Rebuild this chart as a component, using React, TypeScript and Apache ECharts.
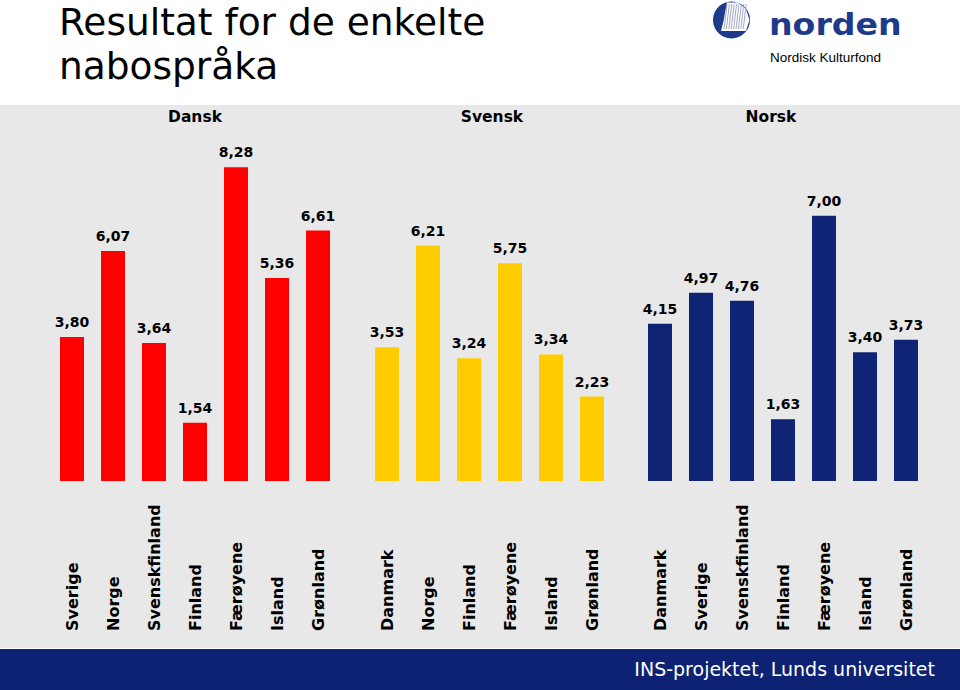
import React, { useEffect, useRef } from "react";
import * as echarts from "echarts";

const danskCategories = ["Sverige", "Norge", "Svenskfinland", "Finland", "Færøyene", "Island", "Grønland"];
const danskValues = [3.8, 6.07, 3.64, 1.54, 8.28, 5.36, 6.61];

const svenskCategories = ["Danmark", "Norge", "Finland", "Færøyene", "Island", "Grønland"];
const svenskValues = [3.53, 6.21, 3.24, 5.75, 3.34, 2.23];

const norskCategories = ["Danmark", "Sverige", "Svenskfinland", "Finland", "Færøyene", "Island", "Grønland"];
const norskValues = [4.15, 4.97, 4.76, 1.63, 7.0, 3.4, 3.73];

const groupNames = ["Dansk", "Svensk", "Norsk"];
const groupColors = ["#FF0000", "#FFCC00", "#102476"];

const FONT = "'DejaVu Sans', Verdana, sans-serif";

export default function App() {
  const ref = useRef<HTMLDivElement>(null);

  useEffect(() => {
    if (!ref.current) return;
    const chart = echarts.init(ref.current, null, { renderer: "svg" });

    const groups = [
      { cats: danskCategories, vals: danskValues, left: 51.5, width: 287 },
      { cats: svenskCategories, vals: svenskValues, left: 366.5, width: 246 },
      { cats: norskCategories, vals: norskValues, left: 639.5, width: 287 },
    ];
    const headerX = [195, 492, 771];

    const option: any = {
      animation: false,
      backgroundColor: "#ffffff",
      title: [
        {
          text: "Resultat for de enkelte\nnabospråka",
          left: 59,
          top: 0,
          padding: 0,
          textStyle: { fontFamily: FONT, fontSize: 37.5, fontWeight: "normal", color: "#000", lineHeight: 44 },
        },
        ...groupNames.map((g, i) => ({
          text: g,
          left: headerX[i],
          top: 109,
          padding: 0,
          textAlign: "center",
          textStyle: { fontFamily: FONT, fontSize: 15.5, fontWeight: "bold", color: "#000" },
        })),
      ],
      graphic: [
        { type: "rect", z: -10, shape: { x: 0, y: 105, width: 960, height: 543 }, style: { fill: "#E8E8E8" } },
        { type: "rect", z: -10, shape: { x: 0, y: 649, width: 960, height: 41 }, style: { fill: "#0D2273" } },
        {
          type: "text",
          z: 10,
          style: {
            text: "INS-projektet, Lunds universitet",
            x: 935,
            y: 669,
            align: "right",
            verticalAlign: "middle",
            fill: "#ffffff",
            fontFamily: FONT,
            fontSize: 19,
          },
        },
        { type: "circle", z: 10, shape: { cx: 731.5, cy: 20, r: 18.5 }, style: { fill: "#1E3A8A" } },
        {
          type: "polygon",
          z: 11,
          shape: {
            points: [
              [727, 2.5],
              [738, 2.5],
              [746, 9],
              [749.5, 20],
              [746, 31],
              [721, 31],
              [723.5, 21],
              [725.5, 10],
            ],
          },
          style: { fill: "#ffffff" },
        },
        ...[0, 1, 2, 3, 4, 5, 6, 7, 8].map((k) => ({
          type: "line",
          z: 12,
          shape: { x1: 727 + k * 2.4, y1: 4, x2: 724 + k * 2.4, y2: 29 },
          style: { stroke: "#8A93B8", lineWidth: 0.8 },
        })),
        {
          type: "text",
          z: 10,
          x: 769,
          y: 24,
          scaleX: 1.07,
          style: {
            text: "norden",
            x: 0,
            y: 0,
            align: "left",
            verticalAlign: "middle",
            fill: "#1E3A8A",
            fontFamily: FONT,
            fontWeight: "bold",
            fontSize: 31,
          },
        },
        {
          type: "text",
          z: 10,
          style: {
            text: "Nordisk Kulturfond",
            x: 770,
            y: 57,
            align: "left",
            verticalAlign: "middle",
            fill: "#000",
            fontFamily: "'Liberation Sans', Arial, sans-serif",
            fontSize: 13.5,
          },
        },
      ],
      grid: groups.map((g) => ({ left: g.left, width: g.width, top: 140, height: 341 })),
      xAxis: groups.map((g, i) => ({
        type: "category",
        gridIndex: i,
        data: g.cats,
        axisLine: { show: false },
        axisTick: { show: false },
        splitLine: { show: false },
        axisLabel: {
          interval: 0,
          rotate: 90,
          align: "left",
          verticalAlign: "middle",
          margin: 150,
          fontFamily: FONT,
          fontSize: 16,
          fontWeight: "bold",
          color: "#000",
        },
      })),
      yAxis: groups.map((g, i) => ({
        type: "value",
        gridIndex: i,
        min: 0,
        max: 9,
        show: false,
        splitLine: { show: false },
      })),
      series: groups.map((g, i) => ({
        type: "bar",
        xAxisIndex: i,
        yAxisIndex: i,
        data: g.vals,
        barWidth: 24,
        itemStyle: { color: groupColors[i] },
        label: {
          show: true,
          position: "top",
          distance: 8,
          fontFamily: FONT,
          fontSize: 14,
          fontWeight: "bold",
          color: "#000",
          formatter: (p: any) => p.value.toFixed(2).replace(".", ","),
        },
      })),
    };

    chart.setOption(option);
    return () => chart.dispose();
  }, []);

  return <div ref={ref} style={{ position: "absolute", left: 0, top: 0, width: 960, height: 690 }} />;
}
